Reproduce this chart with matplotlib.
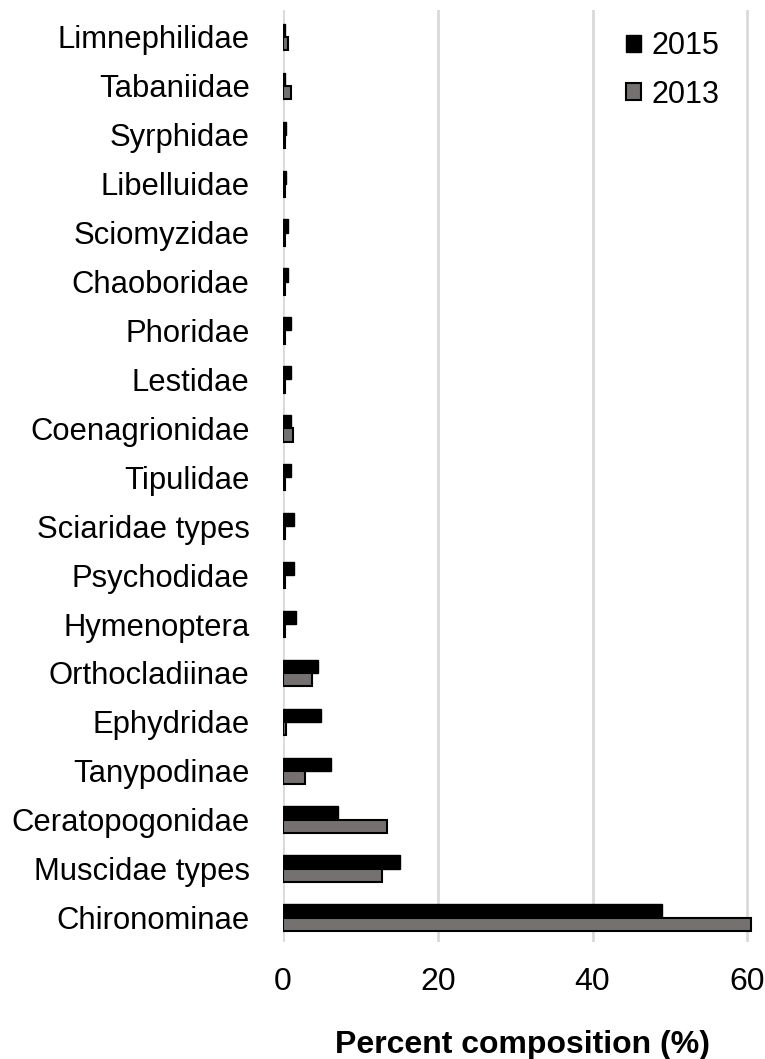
import matplotlib
matplotlib.use("Agg")
import matplotlib.pyplot as plt
import numpy as np

plt.rcParams['font.family'] = ['Liberation Sans', 'DejaVu Sans']

# categories, bottom to top
families = [
    "Chironominae", "Muscidae types", "Ceratopogonidae", "Tanypodinae",
    "Ephydridae", "Orthocladiinae", "Hymenoptera", "Psychodidae",
    "Sciaridae types", "Tipulidae", "Coenagrionidae", "Lestidae",
    "Phoridae", "Chaoboridae", "Sciomyzidae", "Libelluidae",
    "Syrphidae", "Tabaniidae", "Limnephilidae",
]
pct_2015 = [49.0, 15.1, 7.1, 6.2, 4.9, 4.5, 1.7, 1.4, 1.4, 1.0, 1.0, 1.0,
            1.0, 0.65, 0.65, 0.35, 0.35, 0.3, 0.3]
pct_2013 = [60.5, 12.8, 13.4, 2.8, 0.4, 3.8, 0.3, 0.3, 0.3, 0.3, 1.3, 0.2,
            0.3, 0.3, 0.3, 0.2, 0.2, 1.0, 0.6]

y = np.arange(len(families))
h = 0.27

fig = plt.figure(figsize=(7.65, 10.59), dpi=100)
ax = fig.add_axes([0.370, 0.1105, 0.627, 0.880])

ax.barh(y + h / 2, pct_2015, height=h, color='black', edgecolor='black',
        linewidth=1.0, label='2015', zorder=3)
ax.barh(y - h / 2, pct_2013, height=h, color='#767171', edgecolor='black',
        linewidth=1.5, label='2013', zorder=3)

ax.set_xlim(0, 62)
ax.set_ylim(-0.5, 18.55)
ax.set_xticks([0, 20, 40, 60])
ax.set_yticks(y)
ax.set_yticklabels(families, fontsize=22.3)
ax.tick_params(axis='x', labelsize=23, length=0, pad=18)
ax.tick_params(axis='y', length=0, pad=24)

ax.grid(axis='x', color='#d9d9d9', linewidth=2, zorder=0)
for s in ax.spines.values():
    s.set_visible(False)

ax.set_xlabel("Percent composition (%)", fontsize=23, fontweight='bold',
              labelpad=24)

ax.legend(loc='upper right', bbox_to_anchor=(0.955, 1.0), frameon=False,
          fontsize=22, handlelength=0.48, handleheight=0.48,
          handletextpad=0.35, labelspacing=0.6, borderaxespad=0.3)

fig.savefig("out.png", dpi=100)
